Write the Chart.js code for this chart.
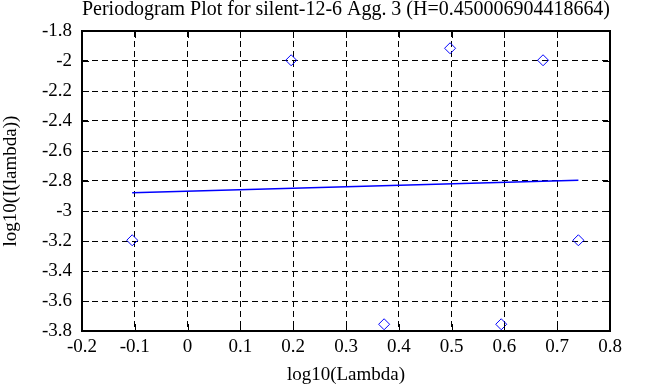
<!DOCTYPE html>
<html>
<head>
<meta charset="utf-8">
<script src="https://cdn.jsdelivr.net/npm/chart.js@4"></script>
<style>
  html, body { margin: 0; padding: 0; background: #fff; }
</style>
</head>
<body>
<canvas id="pgram" width="658" height="387"></canvas>
<script>
// periodogram points: log10 of frequency vs log10 of intensity
const lambdaX = [-0.1049, 0.1961, 0.3722, 0.4971, 0.5940, 0.6732, 0.7401];
const intensityY = [-3.195, -1.995, -3.755, -1.915, -3.755, -1.995, -3.195];

// least squares fit line (end points)
const fitX = [-0.1049, 0.7401];
const fitY = [-2.879, -2.7945];

const xTicks = [-0.2, -0.1, 0, 0.1, 0.2, 0.3, 0.4, 0.5, 0.6, 0.7, 0.8];
const yTicks = [-3.8, -3.6, -3.4, -3.2, -3, -2.8, -2.6, -2.4, -2.2, -2, -1.8];

const serif = 'Liberation Serif';

// solid frame plus short inner tick marks on all four sides
const frame = {
    id: 'frame',
    afterDraw(chart) {
        const { ctx, chartArea: a, scales } = chart;
        ctx.save();
        ctx.strokeStyle = '#000';
        ctx.lineWidth = 1;
        ctx.beginPath();
        xTicks.forEach(v => {
            const px = Math.round(scales.x.getPixelForValue(v)) + 0.5;
            ctx.moveTo(px, a.bottom); ctx.lineTo(px, a.bottom - 7);
            ctx.moveTo(px, a.top); ctx.lineTo(px, a.top + 7);
        });
        yTicks.forEach(v => {
            const py = Math.round(scales.y.getPixelForValue(v)) + 0.5;
            ctx.moveTo(a.left, py); ctx.lineTo(a.left + 7, py);
            ctx.moveTo(a.right, py); ctx.lineTo(a.right - 7, py);
        });
        ctx.stroke();
        ctx.lineWidth = 2;
        ctx.strokeRect(a.left, a.top, a.right - a.left, a.bottom - a.top);
        ctx.restore();
    }
};

const fmt = v => String(Math.round(v * 10) / 10);

new Chart(document.getElementById('pgram'), {
    type: 'scatter',
    data: {
        datasets: [
            {
                label: 'periodogram',
                data: lambdaX.map((x, i) => ({ x, y: intensityY[i] })),
                pointStyle: 'rectRot',
                pointRadius: 5.5,
                pointBorderWidth: 1,
                borderColor: '#0000ff',
                backgroundColor: 'rgba(0,0,0,0)'
            },
            {
                label: 'fit',
                data: fitX.map((x, i) => ({ x, y: fitY[i] })),
                showLine: true,
                pointRadius: 0,
                borderColor: '#0000ff',
                borderWidth: 1.5
            }
        ]
    },
    options: {
        responsive: false,
        animation: false,
        layout: { padding: { top: 0, right: 48, bottom: 0, left: 0 } },
        plugins: {
            legend: { display: false },
            tooltip: { enabled: false },
            title: {
                display: true,
                fullSize: false,
                text: 'Periodogram Plot for silent-12-6 Agg. 3 (H=0.450006904418664)',
                color: '#000',
                font: { family: serif, size: 20, weight: 'normal', lineHeight: 1 },
                padding: { top: 0, bottom: 11 }
            }
        },
        scales: {
            x: {
                type: 'linear',
                min: -0.2,
                max: 0.8,
                afterFit: s => { s.height = 56; },
                afterBuildTicks: s => { s.ticks = xTicks.map(value => ({ value })); },
                ticks: {
                    color: '#000',
                    font: { family: serif, size: 19 },
                    padding: 5,
                    maxRotation: 0,
                    callback: fmt
                },
                grid: {
                    color: '#000',
                    lineWidth: 1,
                    drawTicks: false
                },
                border: { display: false, dash: [6, 4] },
                title: {
                    display: true,
                    text: 'log10(Lambda)',
                    color: '#000',
                    font: { family: serif, size: 19 },
                    padding: { top: 0, bottom: 1 }
                }
            },
            y: {
                type: 'linear',
                min: -3.8,
                max: -1.8,
                afterFit: s => { s.width = 82; },
                afterBuildTicks: s => { s.ticks = yTicks.map(value => ({ value })); },
                ticks: {
                    color: '#000',
                    font: { family: serif, size: 19 },
                    padding: 10,
                    callback: fmt
                },
                grid: {
                    color: '#000',
                    lineWidth: 1,
                    drawTicks: false
                },
                border: { display: false, dash: [6, 4] },
                title: {
                    display: true,
                    text: 'log10(I(lambda))',
                    color: '#000',
                    font: { family: serif, size: 19 },
                    padding: { top: 0, bottom: 0 }
                }
            }
        }
    },
    plugins: [frame]
});
</script>
</body>
</html>
